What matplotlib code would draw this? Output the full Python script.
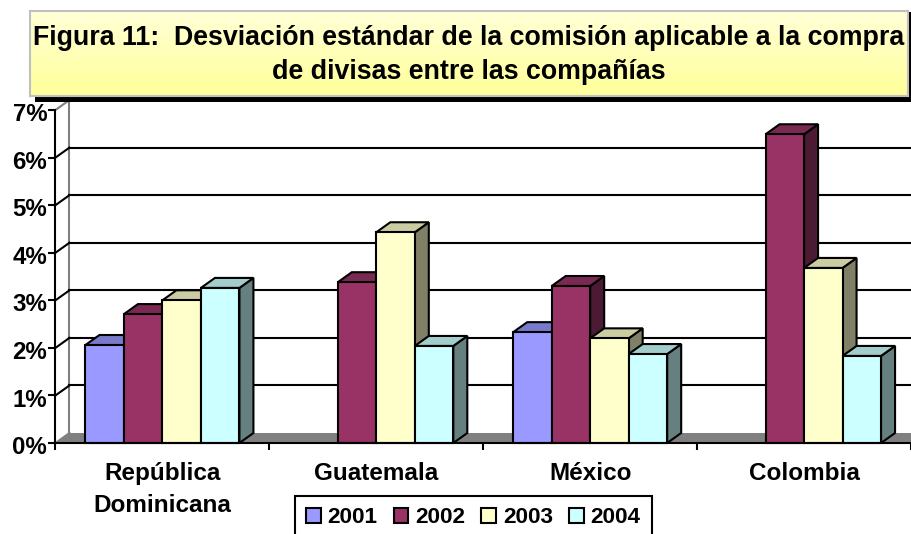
import numpy as np
import matplotlib
matplotlib.use("Agg")
import matplotlib.pyplot as plt
from matplotlib.colors import LinearSegmentedColormap
from matplotlib.patches import Patch, Polygon, Rectangle
from matplotlib.transforms import ScaledTranslation

plt.rcParams["font.family"] = ["Liberation Sans", "DejaVu Sans"]
plt.rcParams["font.weight"] = "bold"

# datos (%)
paises = ["República\nDominicana", "Guatemala", "México", "Colombia"]
anios = ["2001", "2002", "2003", "2004"]
v2001 = [2.06, None, 2.33, None]
v2002 = [2.71, 3.38, 3.30, 6.49]
v2003 = [3.00, 4.43, 2.20, 3.68]
v2004 = [3.26, 2.04, 1.87, 1.83]
series = [v2001, v2002, v2003, v2004]
titulo = "Figura 11:  Desviación estándar de la comisión aplicable a la compra\nde divisas entre las compañías"

# colores: frente, arriba, lado
frente = ["#9999FF", "#993366", "#FFFFCC", "#CCFFFF"]
arriba = ["#7A7ACC", "#7A2952", "#CCCCA3", "#A3CCCC"]
lado = ["#4D4D80", "#4D1A33", "#808066", "#668080"]

W, H = 912, 534
LW = 1.5
fig = plt.figure(figsize=(W / 100, H / 100), dpi=100)

def caja(x0, y0, x1, y1):
    # pixeles (origen arriba) a fraccion de figura
    return [x0 / W, 1 - y1 / H, (x1 - x0) / W, (y1 - y0) / H]

ax = fig.add_axes(caja(55.5, 110, 911, 443))
ax.set_xlim(0, 4)
ax.set_ylim(0, 7)
dx = 14 / (855.5 / 4)      # profundidad 3D en unidades de x
dy = 10 / (333 / 7)        # profundidad 3D en unidades de y

# suelo y pared
ax.add_patch(Polygon([(0, 0), (dx, dy), (4.1, dy), (4.1, 0)], fc="#808080", ec="none", zorder=1, clip_on=False))
ax.plot([dx, dx], [dy, 7 + dy], color="#808080", lw=LW, zorder=1.5, clip_on=False)
ax.plot([0, dx], [0, dy], color="#808080", lw=LW, zorder=1.5, clip_on=False)
ax.plot([0, dx], [7, 7 + dy], color="#808080", lw=LW, zorder=1.5, clip_on=False)
for n in range(1, 7):
    ax.plot([dx, 4.1], [n + dy, n + dy], color="black", lw=LW, zorder=2, clip_on=False)
    ax.plot([0, dx], [n, n + dy], color="black", lw=LW, zorder=2, clip_on=False)

# barras con cara frontal, superior y lateral
ancho = 0.18
margen = (1 - 4 * ancho) / 2
z = 3
for i in range(len(paises)):
    for j, serie in enumerate(series):
        v = serie[i]
        if v is None:
            continue
        x0 = i + margen + j * ancho
        x1 = x0 + ancho
        lado_pts = [(x1, 0), (x1 + dx, dy), (x1 + dx, v + dy), (x1, v)]
        top_pts = [(x0, v), (x0 + dx, v + dy), (x1 + dx, v + dy), (x1, v)]
        ax.add_patch(Polygon(lado_pts, fc=lado[j], ec="black", lw=LW, joinstyle="miter", zorder=z, clip_on=False))
        ax.add_patch(Polygon(top_pts, fc=arriba[j], ec="black", lw=LW, joinstyle="miter", zorder=z, clip_on=False))
        ax.add_patch(Rectangle((x0, 0), ancho, v, fc=frente[j], ec="black", lw=LW, joinstyle="miter", zorder=z + 0.5, clip_on=False))
        z += 1

# ejes
for s in ["top", "right"]:
    ax.spines[s].set_visible(False)
for s in ["left", "bottom"]:
    ax.spines[s].set_linewidth(LW)
    ax.spines[s].set_zorder(50)
ax.set_yticks(range(8))
ax.set_yticklabels([f"{n}%" for n in range(8)], fontsize=17.3)
ax.set_xticks(range(5))
ax.set_xticklabels([])
ax.set_xticks([i + 0.5 for i in range(4)], minor=True)
ax.set_xticklabels(paises, minor=True, fontsize=17.5, linespacing=1.5)
ax.tick_params(axis="x", which="major", length=5, width=LW)
ax.tick_params(axis="x", which="minor", length=0, pad=14)
ax.tick_params(axis="y", length=5, width=LW, pad=1)
# las etiquetas del eje y van un poco mas abajo que la marca
bajar = ScaledTranslation(0, -1.5 / 72, fig.dpi_scale_trans)
for et in ax.get_yticklabels():
    et.set_transform(et.get_transform() + bajar)

# titulo con sombra y degradado
fig.add_artist(Rectangle((35 / W, 1 - 102 / H), 880 / W, 90 / H, transform=fig.transFigure, fc="black", ec="none", zorder=10))
ax_t = fig.add_axes(caja(29.5, 10.5, 908, 96), zorder=11)
cmap = LinearSegmentedColormap.from_list("amarillo", ["#FFFFD8", "#FFFF99"])
ax_t.imshow(np.linspace(0, 1, 100).reshape(-1, 1), aspect="auto", cmap=cmap)
ax_t.set_xticks([])
ax_t.set_yticks([])
for s in ax_t.spines.values():
    s.set_color("#C0C0C0")
    s.set_linewidth(LW)
ax_t.text(0.5, 0.48, titulo, transform=ax_t.transAxes, ha="center", va="center", fontsize=19.3, linespacing=1.42)

# leyenda
manijas = [Patch(fc=frente[j], ec="black", lw=LW, label=anios[j]) for j in range(4)]
ley = fig.legend(handles=manijas, ncol=4, loc="upper left", bbox_to_anchor=(295 / W, 1 - 496 / H),
                 borderaxespad=0, fancybox=False, framealpha=1, edgecolor="black", fontsize=16.2,
                 handlelength=0.65, handleheight=0.65, handletextpad=0.3, columnspacing=0.72, borderpad=0.5)
ley.get_frame().set_linewidth(LW)

fig.savefig("out.png", dpi=100)
